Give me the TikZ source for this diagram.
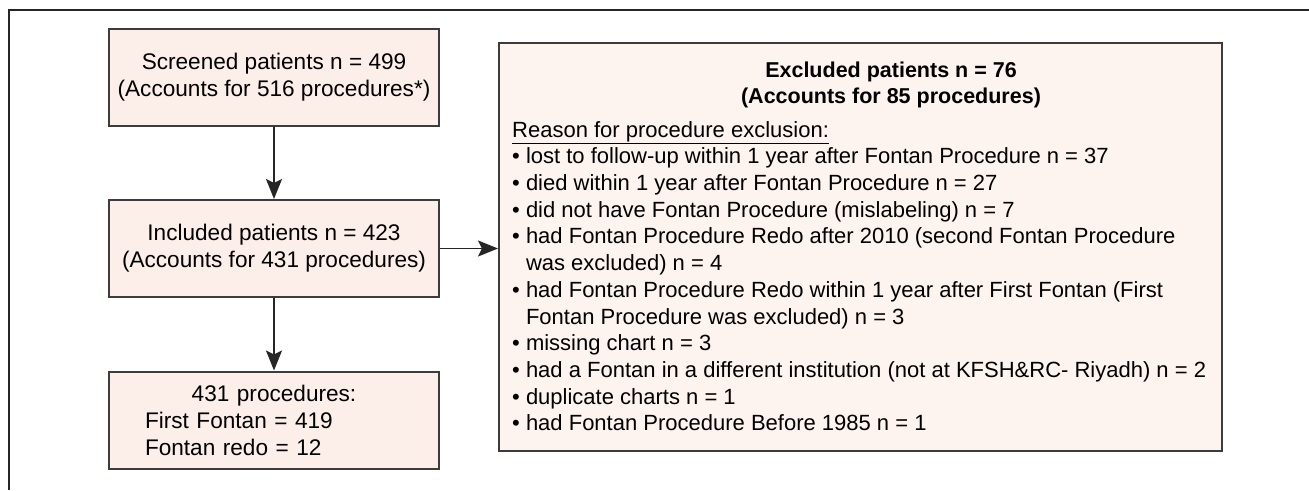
\documentclass[tikz,border=0pt]{standalone}
\usepackage{fontspec}
\setmainfont{Liberation Sans}
\usetikzlibrary{arrows.meta}
\definecolor{boxFill}{RGB}{252,239,234}
\definecolor{boxFillLight}{RGB}{253,243,239}
\definecolor{boxLine}{RGB}{60,60,60}
\begin{document}
\begin{tikzpicture}[x=1pt, y=-1pt,
  flowBox/.style={draw=boxLine, line width=2pt, fill=boxFill, minimum width=330pt, minimum height=97pt, align=center, font=\fontsize{22.6}{27}\selectfont},
  listText/.style={inner sep=0pt, align=left, font=\fontsize{22}{26.7}\selectfont},
  flowArrow/.style={draw=black!85, line width=1.8pt, -{Stealth[length=20pt, width=16pt, inset=4pt]}}
]
\useasboundingbox (0,0) rectangle (1309,490);
\draw [line width=1.2pt, black!85] (9,490) -- (9,10) -- (1309,10);

\node [flowBox] (screened) at (274, 77) {Screened patients n = 499\\(Accounts for 516 procedures*)};
\node [flowBox] (included) at (274, 248.5) {Included patients n = 423\\(Accounts for 431 procedures)};
\node [flowBox, text width=258pt, inner xsep=36pt, align=left] (procs) at (274, 420) {\makebox[\linewidth][c]{431 procedures:}\\First Fontan = 419\\Fontan redo = 12};

\node [flowBox, fill=boxFillLight, minimum width=723pt, minimum height=408pt] (excluded) at (860.5, 247) {};
\node [listText, align=center, font=\bfseries\fontsize{21.5}{26}\selectfont, anchor=north] (exHead) at (891, 62) {Excluded patients n = 76\\(Accounts for 85 procedures)};
\node [listText, anchor=north west] (exList) at (512, 121) {\underline{Reason for procedure exclusion:}\\
\textbullet\ lost to follow-up within 1 year after Fontan Procedure n = 37\\
\textbullet\ died within 1 year after Fontan Procedure n = 27\\
\textbullet\ did not have Fontan Procedure (mislabeling) n = 7\\
\textbullet\ had Fontan Procedure Redo after 2010 (second Fontan Procedure\\
\hphantom{\textbullet}\ was excluded) n = 4\\
\textbullet\ had Fontan Procedure Redo within 1 year after First Fontan (First\\
\hphantom{\textbullet}\ Fontan Procedure was excluded) n = 3\\
\textbullet\ missing chart n = 3\\
\textbullet\ had a Fontan in a different institution (not at KFSH\&RC- Riyadh) n = 2\\
\textbullet\ duplicate charts n = 1\\
\textbullet\ had Fontan Procedure Before 1985 n = 1};

\draw [flowArrow] (screened) -- (included);
\draw [flowArrow] (included) -- (procs);
\draw [flowArrow] (included.east) -- (included.east -| excluded.west);
\end{tikzpicture}
\end{document}
